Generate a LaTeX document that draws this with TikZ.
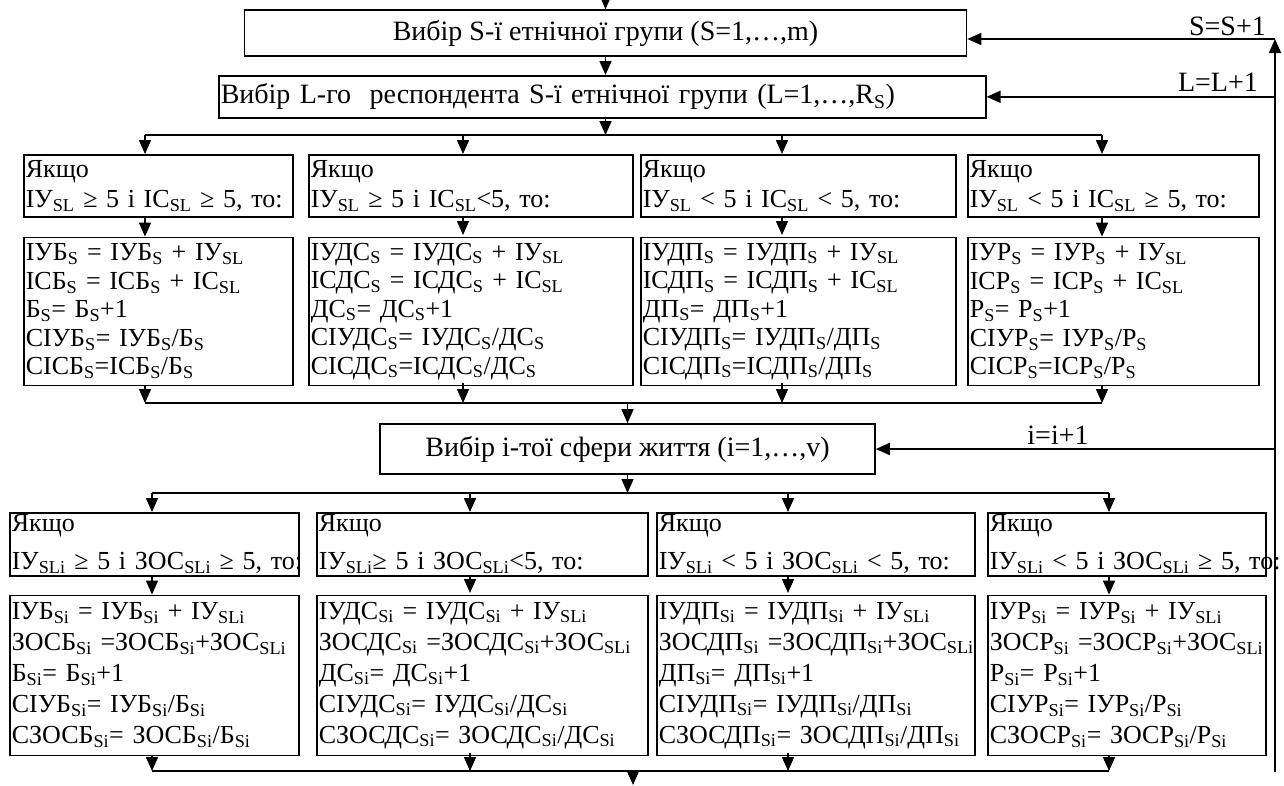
\documentclass[tikz,border=0pt]{standalone}
\usepackage{fontspec}
\setmainfont{Liberation Serif}
\usepackage{tikz}
\usetikzlibrary{arrows.meta, positioning, calc}
\newcommand{\ix}[1]{\textsubscript{#1}}
\newcommand{\bodyfont}{\fontsize{28}{30}\selectfont}
\newcommand{\boxfont}[1]{\fontsize{26}{#1}\selectfont}
\tikzstyle{sel} = [rectangle, draw=black, line width=1.6pt, text centered, inner sep=2pt, font=\bodyfont]
\tikzstyle{cond} = [rectangle, draw=black, line width=1.6pt, align=left, anchor=north west, inner xsep=2pt, inner ysep=1pt, font=\boxfont{30}]
\tikzstyle{condi} = [cond, font=\boxfont{38}]
\tikzstyle{act} = [cond, font=\boxfont{28.5}]
\tikzstyle{acti} = [cond, font=\boxfont{31}]
\tikzstyle{lbl} = [inner sep=1pt, font=\bodyfont]
\tikzstyle{arrow} = [line width=1.6pt, -{Triangle[length=14pt,width=12pt]}]
\tikzstyle{line} = [line width=1.6pt]
\begin{document}
\begin{tikzpicture}[x=1pt, y=-1pt]
\useasboundingbox (0,0) rectangle (1284,785);

% Selection of group and respondent
\node (grp) [sel, minimum width=722pt, minimum height=46pt] at (605.5,33) {Вибір S-ї етнічної групи (S=1,…,m)};
\node (resp) [sel, anchor=north west, text width=763pt, align=left, minimum height=42pt] at (218,75) {Вибір L-го\ \ респондента S-ї етнічної групи (L=1,…,R\ix{S})};

% Conditions on respondent
\node (if1) [cond, text width=265pt, minimum height=62pt] at (23,154) {Якщо\\\mbox{ІУ\ix{SL} ≥ 5 і ІС\ix{SL} ≥ 5, то:}};
\node (if2) [cond, text width=320pt, minimum height=62pt] at (308,154) {Якщо\\\mbox{ІУ\ix{SL} ≥ 5 і ІС\ix{SL}<5, то:}};
\node (if3) [cond, text width=311pt, minimum height=62pt] at (640,154) {Якщо\\\mbox{ІУ\ix{SL} < 5 і ІС\ix{SL} < 5, то:}};
\node (if4) [cond, text width=287pt, minimum height=62pt] at (967,154) {Якщо\\\mbox{ІУ\ix{SL} < 5 і ІС\ix{SL} ≥ 5, то:}};

% Sums over respondents
\node (do1) [act, text width=265pt, minimum height=148pt, below=19pt of if1] {ІУБ\ix{S} = ІУБ\ix{S} + ІУ\ix{SL}\\ІСБ\ix{S} = ІСБ\ix{S} + ІС\ix{SL}\\Б\ix{S}= Б\ix{S}+1\\СІУБ\ix{S}= ІУБ\ix{S}/Б\ix{S}\\СІСБ\ix{S}=ІСБ\ix{S}/Б\ix{S}};
\node (do2) [act, text width=320pt, minimum height=148pt, below=19pt of if2] {ІУДС\ix{S} = ІУДС\ix{S} + ІУ\ix{SL}\\ІСДС\ix{S} = ІСДС\ix{S} + ІС\ix{SL}\\ДС\ix{S}= ДС\ix{S}+1\\СІУДС\ix{S}= ІУДС\ix{S}/ДС\ix{S}\\СІСДС\ix{S}=ІСДС\ix{S}/ДС\ix{S}};
\node (do3) [act, text width=311pt, minimum height=148pt, below=19pt of if3] {ІУДП\ix{S} = ІУДП\ix{S} + ІУ\ix{SL}\\ІСДП\ix{S} = ІСДП\ix{S} + ІС\ix{SL}\\ДП\ix{S}= ДП\ix{S}+1\\СІУДП\ix{S}= ІУДП\ix{S}/ДП\ix{S}\\СІСДП\ix{S}=ІСДП\ix{S}/ДП\ix{S}};
\node (do4) [act, text width=287pt, minimum height=148pt, below=19pt of if4] {ІУР\ix{S} = ІУР\ix{S} + ІУ\ix{SL}\\ІСР\ix{S} = ІСР\ix{S} + ІС\ix{SL}\\Р\ix{S}= Р\ix{S}+1\\СІУР\ix{S}= ІУР\ix{S}/Р\ix{S}\\СІСР\ix{S}=ІСР\ix{S}/Р\ix{S}};

% Selection of sphere
\node (sph) [sel, minimum width=495pt, minimum height=50pt] at (627.5,449) {Вибір і-тої сфери життя (i=1,…,v)};

% Conditions on sphere
\node (ifi1) [condi, text width=285pt, minimum height=63pt] at (9,512) {Якщо\\\mbox{ІУ\ix{SLi} ≥ 5 і ЗОС\ix{SLi} ≥ 5, то:}};
\node (ifi2) [condi, text width=327pt, minimum height=63pt] at (316,512) {Якщо\\\mbox{ІУ\ix{SLi}≥ 5 і ЗОС\ix{SLi}<5, то:}};
\node (ifi3) [condi, text width=314pt, minimum height=63pt] at (656,512) {Якщо\\\mbox{ІУ\ix{SLi} < 5 і ЗОС\ix{SLi} < 5, то:}};
\node (ifi4) [condi, text width=274pt, minimum height=63pt] at (987,512) {Якщо\\\mbox{ІУ\ix{SLi} < 5 і ЗОС\ix{SLi} ≥ 5, то:}};

% Sums over spheres
\node (doi1) [acti, text width=285pt, minimum height=160pt, below=18pt of ifi1] {ІУБ\ix{Si} = ІУБ\ix{Si} + ІУ\ix{SLi}\\\mbox{ЗОСБ\ix{Si} =ЗОСБ\ix{Si}+ЗОС\ix{SLi}}\\Б\ix{Si}= Б\ix{Si}+1\\СІУБ\ix{Si}= ІУБ\ix{Si}/Б\ix{Si}\\СЗОСБ\ix{Si}= ЗОСБ\ix{Si}/Б\ix{Si}};
\node (doi2) [acti, text width=327pt, minimum height=160pt, below=18pt of ifi2] {ІУДС\ix{Si} = ІУДС\ix{Si} + ІУ\ix{SLi}\\\mbox{ЗОСДС\ix{Si} =ЗОСДС\ix{Si}+ЗОС\ix{SLi}}\\ДС\ix{Si}= ДС\ix{Si}+1\\СІУДС\ix{Si}= ІУДС\ix{Si}/ДС\ix{Si}\\\mbox{СЗОСДС\ix{Si}= ЗОСДС\ix{Si}/ДС\ix{Si}}};
\node (doi3) [acti, text width=314pt, minimum height=160pt, below=18pt of ifi3] {ІУДП\ix{Si} = ІУДП\ix{Si} + ІУ\ix{SLi}\\\mbox{ЗОСДП\ix{Si} =ЗОСДП\ix{Si}+ЗОС\ix{SLi}}\\ДП\ix{Si}= ДП\ix{Si}+1\\СІУДП\ix{Si}= ІУДП\ix{Si}/ДП\ix{Si}\\\mbox{СЗОСДП\ix{Si}= ЗОСДП\ix{Si}/ДП\ix{Si}}};
\node (doi4) [acti, text width=274pt, minimum height=160pt, below=18pt of ifi4] {ІУР\ix{Si} = ІУР\ix{Si} + ІУ\ix{SLi}\\\mbox{ЗОСР\ix{Si} =ЗОСР\ix{Si}+ЗОС\ix{SLi}}\\Р\ix{Si}= Р\ix{Si}+1\\СІУР\ix{Si}= ІУР\ix{Si}/Р\ix{Si}\\\mbox{СЗОСР\ix{Si}= ЗОСР\ix{Si}/Р\ix{Si}}};

% Junction points
\coordinate (in) at (605.5,0);
\coordinate (s1) at (145,135);
\coordinate (s4) at (1102,135);
\coordinate (e1) at (145,403);
\coordinate (e4) at (1102,403);
\coordinate (u1) at (152,493);
\coordinate (u4) at (1109,493);
\coordinate (w1) at (152,771);
\coordinate (w4) at (1109,771);
\coordinate (out) at (633,785);
\coordinate (back) at (1275,772);
\coordinate (corner) at (1275,39);

% Arrows, upper part
\draw [arrow] (in) -- (grp);
\draw [arrow] (grp) -- (grp.south |- resp.north);
\draw [arrow] (grp.south |- resp.south) -- (grp.south |- s1);
\draw [line] (s1) -- (s4);
\draw [arrow] (s1) -- (s1 |- if1.north);
\draw [arrow] (463,135) -- (463,154);
\draw [arrow] (782,135) -- (782,154);
\draw [arrow] (s4) -- (s4 |- if4.north);
\draw [arrow] (s1 |- if1.south) -- (s1 |- do1.north);
\draw [arrow] (463,216) -- (463,235);
\draw [arrow] (782,216) -- (782,235);
\draw [arrow] (s4 |- if4.south) -- (s4 |- do4.north);
\draw [arrow] (s1 |- do1.south) -- (e1);
\draw [arrow] (463,383) -- (463,403);
\draw [arrow] (782,383) -- (782,403);
\draw [arrow] (s4 |- do4.south) -- (e4);
\draw [line] (e1) -- (e4);
\draw [arrow] (sph.north |- e1) -- (sph);

% Arrows, lower part
\draw [arrow] (sph) -- (sph.south |- u1);
\draw [line] (u1) -- (u4);
\draw [arrow] (u1) -- (u1 |- ifi1.north);
\draw [arrow] (470,493) -- (470,512);
\draw [arrow] (788,493) -- (788,512);
\draw [arrow] (u4) -- (u4 |- ifi4.north);
\draw [arrow] (u1 |- ifi1.south) -- (u1 |- doi1.north);
\draw [arrow] (470,575) -- (470,593);
\draw [arrow] (788,575) -- (788,593);
\draw [arrow] (u4 |- ifi4.south) -- (u4 |- doi4.north);
\draw [arrow] (u1 |- doi1.south) -- (w1);
\draw [arrow] (470,753) -- (470,771);
\draw [arrow] (788,753) -- (788,771);
\draw [arrow] (u4 |- doi4.south) -- (w4);
\draw [line] (w1) -- (w4);
\draw [arrow] (out |- w1) -- (out);

% Loop back
\draw [arrow] (back) -- (corner);
\draw [arrow] (corner) -- (corner -| grp.east);
\draw [arrow] (resp.east -| back) -- (resp.east);
\draw [arrow] (sph.east -| back) -- (sph.east);
\node (incs) [lbl, anchor=south east] at (1267,37) {S=S+1};
\node (incl) [lbl, anchor=south east] at (1259,93) {L=L+1};
\node (inci) [lbl, anchor=south] at (1058,446) {i=i+1};

\end{tikzpicture}
\end{document}
